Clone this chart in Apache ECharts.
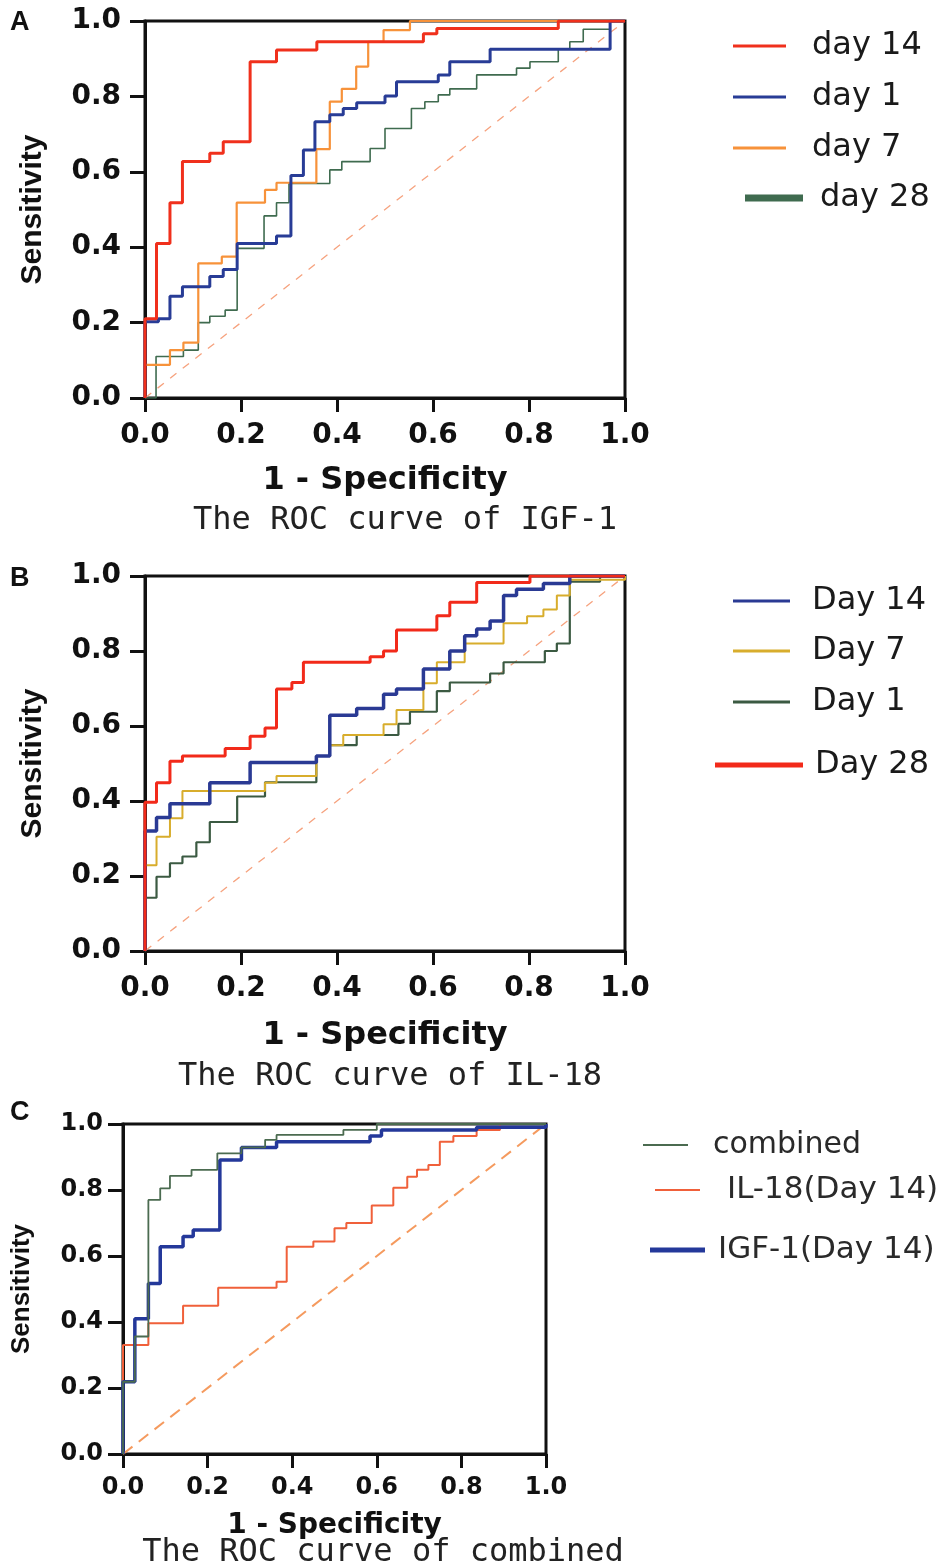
<!DOCTYPE html>
<html>
<head>
<meta charset="utf-8">
<script src="https://cdn.jsdelivr.net/npm/echarts@6/dist/echarts.min.js"></script>
<style>
  html, body { margin: 0; padding: 0; background: #fff; }
  #roc { width: 946px; height: 1566px; }
</style>
</head>
<body>
<div id="roc"></div>
<script>
  // 刻度
  const tickValues = [0, 0.2, 0.4, 0.6, 0.8, 1.0];
  const diagX = [0, 1];
  const diagY = [0, 1];

  // A: IGF-1
  const a14X = [0, 0, 0.024, 0.052, 0.078, 0.135, 0.163, 0.219, 0.274, 0.358, 0.58, 0.608, 0.861, 1];
  const a14Y = [0, 0.21, 0.41, 0.518, 0.627, 0.649, 0.68, 0.892, 0.923, 0.945, 0.966, 0.98, 1.0, 1.0];
  const a1X = [0, 0, 0.028, 0.052, 0.078, 0.135, 0.163, 0.192, 0.274, 0.304, 0.33, 0.354, 0.385, 0.413, 0.441, 0.5, 0.524, 0.611, 0.635, 0.719, 0.969, 1];
  const a1Y = [0, 0.202, 0.21, 0.27, 0.295, 0.322, 0.341, 0.41, 0.43, 0.59, 0.658, 0.733, 0.751, 0.768, 0.783, 0.801, 0.839, 0.857, 0.892, 0.925, 1.0, 1.0];
  const a7X = [0, 0, 0.052, 0.08, 0.111, 0.16, 0.191, 0.25, 0.274, 0.357, 0.385, 0.41, 0.44, 0.465, 0.497, 0.552, 1];
  const a7Y = [0, 0.088, 0.127, 0.147, 0.357, 0.375, 0.518, 0.552, 0.571, 0.66, 0.786, 0.82, 0.879, 0.945, 0.976, 1.0, 1.0];
  const a28X = [0, 0.023, 0.08, 0.111, 0.135, 0.167, 0.192, 0.248, 0.274, 0.3, 0.385, 0.41, 0.469, 0.5, 0.555, 0.583, 0.611, 0.635, 0.691, 0.774, 0.802, 0.861, 0.885, 0.913, 0.969, 1];
  const a28Y = [0, 0.11, 0.127, 0.2, 0.217, 0.233, 0.397, 0.483, 0.518, 0.569, 0.605, 0.627, 0.662, 0.715, 0.768, 0.786, 0.804, 0.82, 0.857, 0.875, 0.892, 0.925, 0.945, 0.978, 1.0, 1.0];

  // B: IL-18
  const b28X = [0, 0, 0.024, 0.052, 0.078, 0.167, 0.219, 0.25, 0.274, 0.306, 0.33, 0.469, 0.497, 0.524, 0.608, 0.635, 0.691, 0.802, 1];
  const b28Y = [0, 0.397, 0.449, 0.506, 0.52, 0.54, 0.573, 0.595, 0.699, 0.716, 0.77, 0.785, 0.8, 0.856, 0.894, 0.93, 0.983, 1.0, 1.0];
  const b14X = [0, 0, 0.024, 0.052, 0.135, 0.219, 0.357, 0.385, 0.441, 0.497, 0.524, 0.58, 0.635, 0.666, 0.691, 0.719, 0.747, 0.774, 0.83, 0.885, 1];
  const b14Y = [0, 0.32, 0.356, 0.393, 0.449, 0.503, 0.52, 0.629, 0.647, 0.685, 0.699, 0.752, 0.8, 0.841, 0.859, 0.88, 0.948, 0.965, 0.98, 1.0, 1.0];
  const b7X = [0, 0, 0.024, 0.052, 0.078, 0.25, 0.274, 0.357, 0.385, 0.413, 0.497, 0.524, 0.58, 0.608, 0.666, 0.747, 0.796, 0.83, 0.858, 0.885, 1];
  const b7Y = [0, 0.229, 0.305, 0.354, 0.427, 0.449, 0.467, 0.52, 0.549, 0.576, 0.605, 0.643, 0.714, 0.77, 0.82, 0.874, 0.893, 0.911, 0.948, 0.99, 1.0];
  const b1X = [0, 0, 0.024, 0.052, 0.078, 0.107, 0.135, 0.192, 0.25, 0.357, 0.385, 0.441, 0.528, 0.552, 0.608, 0.635, 0.719, 0.747, 0.833, 0.858, 0.885, 0.948, 1];
  const b1Y = [0, 0.142, 0.198, 0.234, 0.252, 0.29, 0.344, 0.412, 0.45, 0.52, 0.549, 0.576, 0.606, 0.638, 0.693, 0.716, 0.74, 0.77, 0.8, 0.82, 0.985, 1.0, 1.0];

  // C: combined
  const cCombX = [0, 0, 0.028, 0.06, 0.088, 0.111, 0.162, 0.223, 0.28, 0.336, 0.363, 0.521, 0.6, 1];
  const cCombY = [0, 0.219, 0.356, 0.77, 0.805, 0.843, 0.861, 0.911, 0.929, 0.952, 0.967, 0.982, 1.0, 1.0];
  const cIlX = [0, 0, 0.06, 0.142, 0.225, 0.363, 0.387, 0.45, 0.5, 0.528, 0.588, 0.639, 0.672, 0.695, 0.722, 0.749, 0.781, 0.836, 0.891, 1];
  const cIlY = [0, 0.33, 0.396, 0.449, 0.504, 0.522, 0.628, 0.644, 0.684, 0.7, 0.753, 0.807, 0.84, 0.861, 0.876, 0.946, 0.964, 0.982, 1.0, 1.0];
  const cIgfX = [0, 0, 0.028, 0.06, 0.088, 0.142, 0.166, 0.229, 0.28, 0.363, 0.584, 0.611, 0.836, 1];
  const cIgfY = [0, 0.219, 0.41, 0.517, 0.628, 0.659, 0.679, 0.891, 0.929, 0.946, 0.964, 0.982, 0.99, 1.0];

  const pairs = (xs, ys) => xs.map((x, i) => [x, ys[i]]);

  const chartInstance = echarts.init(document.getElementById('roc'), null, { renderer: 'canvas' });

  const BOLD = 'DejaVu Sans';
  const NARROW = '"Liberation Sans", Arial, sans-serif';
  const MONO = '"DejaVu Sans Mono", monospace';

  // 坐标轴（每个面板一套）
  function makeX(gridIndex, labelSize, nameSize, nameGap, labelMargin) {
    return {
      type: 'value', gridIndex, min: 0, max: 1, interval: 0.2,
      name: '1 - Specificity', nameLocation: 'middle', nameGap,
      nameTextStyle: { fontFamily: BOLD, fontWeight: 'bold', fontSize: nameSize, color: '#111' },
      axisLine: { show: true, onZero: false, lineStyle: { color: '#111', width: 3 } },
      axisTick: { show: true, length: 14, lineStyle: { color: '#111', width: 3 } },
      axisLabel: {
        margin: labelMargin, fontFamily: BOLD, fontWeight: 'bold', fontSize: labelSize, color: '#111',
        formatter: (v) => v.toFixed(1)
      },
      splitLine: { show: false }
    };
  }
  function makeY(gridIndex, labelSize, nameSize, nameGap, labelMargin) {
    return {
      type: 'value', gridIndex, min: 0, max: 1, interval: 0.2,
      name: 'Sensitivity', nameLocation: 'middle', nameGap, nameRotate: 90,
      nameTextStyle: { fontFamily: NARROW, fontWeight: 'bold', fontSize: nameSize, color: '#111' },
      axisLine: { show: true, onZero: false, lineStyle: { color: '#111', width: 3 } },
      axisTick: { show: true, length: 15, lineStyle: { color: '#111', width: 3 } },
      axisLabel: {
        margin: labelMargin, fontFamily: BOLD, fontWeight: 'bold', fontSize: labelSize, color: '#111',
        formatter: (v) => v.toFixed(1)
      },
      splitLine: { show: false }
    };
  }

  function stepLine(name, xs, ys, color, width, idx) {
    return {
      name, type: 'line', step: 'end', data: pairs(xs, ys),
      xAxisIndex: idx, yAxisIndex: idx,
      showSymbol: false, color,
      lineStyle: { color, width }
    };
  }
  function diagonal(idx, color, width, dash) {
    return {
      type: 'line', data: pairs(diagX, diagY), xAxisIndex: idx, yAxisIndex: idx,
      showSymbol: false, silent: true, z: 1,
      lineStyle: { color, width, type: dash }
    };
  }

  function oneLegend(name, left, cy, w, h, pad, size, color) {
    return {
      data: [name], orient: 'vertical', left, top: cy - 18, padding: 0,
      icon: 'rect', itemWidth: w, itemHeight: h,
      textStyle: { fontFamily: 'DejaVu Sans', fontSize: size, color: color, lineHeight: 36, padding: [0, 0, 0, pad] }
    };
  }

  const letterStyle = { fontFamily: 'Liberation Sans', fontWeight: 'bold', fontSize: 27, color: '#111' };
  const captionStyle = { fontFamily: MONO, fontWeight: 'normal', fontSize: 32, color: '#222' };

  const option = {
    backgroundColor: '#fff',
    animation: false,
    title: [
      { text: 'A', left: 10, top: 9, padding: 0, textStyle: letterStyle },
      { text: 'B', left: 10, top: 565, padding: 0, textStyle: letterStyle },
      { text: 'C', left: 10, top: 1099, padding: 0, textStyle: letterStyle },
      { text: 'The ROC curve of IGF-1', left: 405, textAlign: 'center', top: 505, padding: 0, textStyle: captionStyle },
      { text: 'The ROC curve of IL-18', left: 390, textAlign: 'center', top: 1061, padding: 0, textStyle: captionStyle },
      { text: 'The ROC curve of combined', left: 383, textAlign: 'center', top: 1537, padding: 0, textStyle: captionStyle }
    ],
    grid: [
      { left: 145, top: 21, width: 480, height: 377, show: true, borderColor: '#111', borderWidth: 3, backgroundColor: 'transparent' },
      { left: 145, top: 576, width: 480, height: 375, show: true, borderColor: '#111', borderWidth: 3, backgroundColor: 'transparent' },
      { left: 123, top: 1124, width: 423, height: 330, show: true, borderColor: '#111', borderWidth: 3, backgroundColor: 'transparent' }
    ],
    xAxis: [
      makeX(0, 28, 32, 67, 24),
      makeX(1, 28, 32, 69, 24),
      makeX(2, 24, 28, 58, 22)
    ],
    yAxis: [
      makeY(0, 28, 30, 97, 24),
      makeY(1, 28, 30, 97, 24),
      makeY(2, 24, 26, 88, 20)
    ],
    legend: [
      oneLegend('day 14', 733, 46, 53, 3, 21, 32, '#1a1a1a'),
      oneLegend('day 1', 733, 97, 53, 3, 21, 32, '#1a1a1a'),
      oneLegend('day 7', 733, 148, 53, 3, 21, 32, '#1a1a1a'),
      oneLegend('day 28', 745, 198, 58, 7, 12, 32, '#1a1a1a'),
      oneLegend('Day 14', 733, 601, 57, 3, 17, 32, '#1a1a1a'),
      oneLegend('Day 7', 733, 651, 57, 3, 17, 32, '#1a1a1a'),
      oneLegend('Day 1', 733, 702, 57, 3, 17, 32, '#1a1a1a'),
      oneLegend('Day 28', 715, 765, 88, 5, 7, 32, '#1a1a1a'),
      oneLegend('combined', 643, 1145, 45, 2, 20, 30, '#2a2a2a'),
      oneLegend('IL-18(Day 14)', 655, 1190, 45, 2, 22, 31, '#2a2a2a'),
      oneLegend('IGF-1(Day 14)', 650, 1250, 55, 5, 8, 31, '#2a2a2a')
    ],
    series: [
      diagonal(0, '#f6a27e', 1.3, [8, 8]),
      stepLine('day 28', a28X, a28Y, '#3f6b4f', 1.6, 0),
      stepLine('day 7', a7X, a7Y, '#f7923a', 2.2, 0),
      stepLine('day 1', a1X, a1Y, '#283c96', 3, 0),
      stepLine('day 14', a14X, a14Y, '#f0301c', 3, 0),

      diagonal(1, '#f6a27e', 1.3, [8, 8]),
      stepLine('Day 1', b1X, b1Y, '#3b5a42', 2.2, 1),
      stepLine('Day 7', b7X, b7Y, '#d8ad2c', 2, 1),
      stepLine('Day 14', b14X, b14Y, '#2a3a94', 3.5, 1),
      stepLine('Day 28', b28X, b28Y, '#f22a1a', 3, 1),

      diagonal(2, '#f59a5e', 2, [12, 8]),
      stepLine('IL-18(Day 14)', cIlX, cIlY, '#f0603a', 2, 2),
      stepLine('IGF-1(Day 14)', cIgfX, cIgfY, '#24389a', 3.5, 2),
      stepLine('combined', cCombX, cCombY, '#4b6b50', 1.8, 2)
    ]
  };

  chartInstance.setOption(option);
</script>
</body>
</html>
